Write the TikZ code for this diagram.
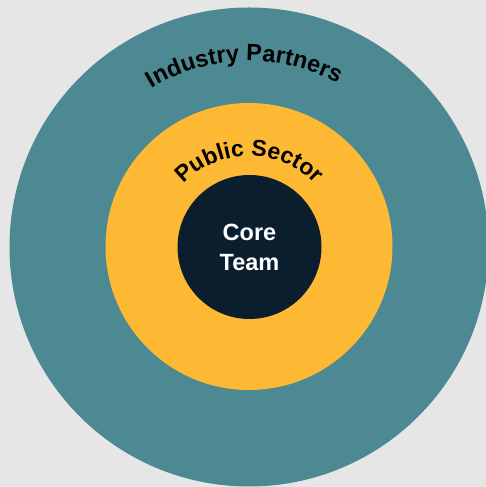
\documentclass[tikz,border=0pt]{standalone}
\usepackage{fontspec}
\setmainfont{Liberation Sans}
\usetikzlibrary{decorations.text}
\definecolor{bgc}{RGB}{230,230,230}
\definecolor{tealc}{RGB}{77,137,146}
\definecolor{yelc}{RGB}{253,185,51}
\definecolor{navyc}{RGB}{11,30,46}
\newcommand{\ringfont}{\bfseries\fontsize{23.5}{23.5}\selectfont}
\newcommand{\midfont}{\bfseries\fontsize{23}{23}\selectfont}
\begin{document}
\begin{tikzpicture}[x=1pt,y=1pt,
  ring/.style={circle, inner sep=0pt, draw=none},
  arclabel/.style={decorate, decoration={text along path, text align=center, text={#1}}}]
\useasboundingbox (0,0) rectangle (486,487);
\fill[bgc] (0,0) rectangle (486,487);
\node[ring, fill=tealc, minimum size=479pt] (outer) at (249,240) {};
\node[ring, fill=yelc, minimum size=287pt] (middle) at (249,240.5) {};
\node[ring, fill=navyc, minimum size=144pt, text=white, align=center,
  font=\bfseries\fontsize{23.5}{30}\selectfont] (core) at (249.5,240) {Core\\Team};
\path[arclabel={|\ringfont|Industry Partners}] (outer.center) ++(151.5:186) arc[start angle=151.5, end angle=31.5, radius=186];
\path[arclabel={|\midfont|Public Sector}] (middle.center) ++(145:90.5) arc[start angle=145, end angle=35, radius=90.5];
\end{tikzpicture}
\end{document}
